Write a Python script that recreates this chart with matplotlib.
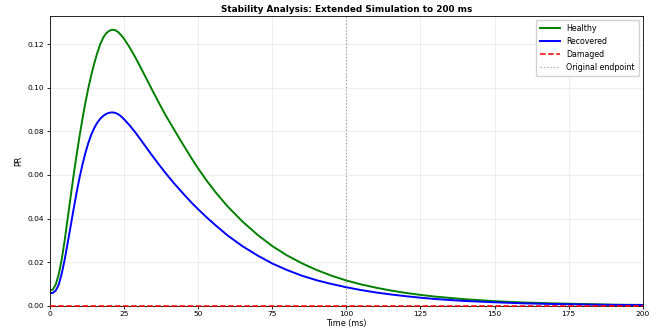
import numpy as np
import matplotlib
matplotlib.use("Agg")
import matplotlib.pyplot as plt

# --- Data ---
t_healthy = [0, 1, 2, 3, 4, 5, 6, 7, 8, 9, 10, 11, 12, 13, 14, 15, 16, 17, 18,
             19, 20, 21, 22, 23, 24, 25, 27, 29, 31, 33, 35, 37, 39, 42, 45, 48,
             50, 53, 56, 60, 65, 70, 75, 80, 85, 90, 95, 100, 105, 110, 115,
             120, 125, 130, 140, 150, 160, 170, 180, 190, 200]
pr_healthy = [0.0070, 0.0074, 0.0098, 0.0145, 0.0213, 0.0300, 0.0400, 0.0500,
              0.0598, 0.0690, 0.0777, 0.0858, 0.0933, 0.1000, 0.1060, 0.1113,
              0.1160, 0.1200, 0.1230, 0.1250, 0.1261, 0.1266, 0.1264, 0.1256,
              0.1242, 0.1225, 0.1183, 0.1135, 0.1083, 0.1030, 0.0977, 0.0925,
              0.0875, 0.0806, 0.0738, 0.0672, 0.0630, 0.0572, 0.0519, 0.0455,
              0.0386, 0.0326, 0.0274, 0.0231, 0.0195, 0.0164, 0.0138, 0.0116,
              0.0098, 0.0083, 0.0070, 0.0059, 0.0050, 0.0042, 0.0030, 0.0021,
              0.0015, 0.0011, 0.0008, 0.0005, 0.0004]

t_recovered = [0, 1, 2, 3, 4, 5, 6, 7, 8, 9, 10, 11, 12, 13, 14, 15, 16, 17,
               18, 19, 20, 21, 22, 23, 24, 25, 27, 29, 31, 33, 35, 37, 39, 42,
               45, 48, 50, 53, 56, 60, 65, 70, 75, 80, 85, 90, 95, 100, 105,
               110, 115, 120, 125, 130, 140, 150, 160, 170, 180, 190, 200]
pr_recovered = [0.0058, 0.0059, 0.0070, 0.0097, 0.0148, 0.0212, 0.0288,
                0.0365, 0.0443, 0.0518, 0.0587, 0.0648, 0.0702, 0.0748,
                0.0786, 0.0816, 0.0840, 0.0858, 0.0871, 0.0880, 0.0885,
                0.0887, 0.0885, 0.0879, 0.0869, 0.0856, 0.0826, 0.0792,
                0.0755, 0.0717, 0.0680, 0.0644, 0.0609, 0.0560, 0.0514,
                0.0470, 0.0443, 0.0404, 0.0368, 0.0322, 0.0273, 0.0231,
                0.0194, 0.0164, 0.0138, 0.0117, 0.0100, 0.0085, 0.0072,
                0.0061, 0.0052, 0.0044, 0.0037, 0.0031, 0.0022, 0.0016,
                0.0011, 0.0008, 0.0006, 0.0004, 0.0003]

t_damaged = [0, 200]
pr_damaged = [0.0, 0.0]

original_end = 100

# --- Plotting ---
fig = plt.figure(figsize=(6.65, 3.32), dpi=100)
ax = fig.add_axes([0.075, 0.079, 0.8915, 0.873])

ax.plot(t_healthy, pr_healthy, color="green", linewidth=1.4, label="Healthy")
ax.plot(t_recovered, pr_recovered, color="blue", linewidth=1.4, label="Recovered")
ax.plot(t_damaged, pr_damaged, color="red", linestyle="--", linewidth=1.1,
        label="Damaged", zorder=3, clip_on=False)
ax.axvline(original_end, color="gray", linestyle=":", linewidth=0.9, alpha=0.7,
           label="Original endpoint")

ax.set_xlim(0, 200)
ax.set_ylim(bottom=0)
ax.set_xticks([0, 25, 50, 75, 100, 125, 150, 175, 200])

ax.set_title("Stability Analysis: Extended Simulation to 200 ms",
             fontsize=6.4, fontweight="bold", pad=3)
ax.set_xlabel("Time (ms)", fontsize=5.8, labelpad=1.5)
ax.set_ylabel("PR", fontsize=5.8, labelpad=3)
ax.tick_params(labelsize=5.4, length=2, width=0.6, pad=2)
for s in ax.spines.values():
    s.set_linewidth(0.6)

ax.grid(True, alpha=0.3, linewidth=0.5)
ax.legend(loc="upper right", fontsize=5.7, framealpha=0.9, borderpad=0.5,
          handlelength=2.5)

plt.savefig("out.png", dpi=100)
